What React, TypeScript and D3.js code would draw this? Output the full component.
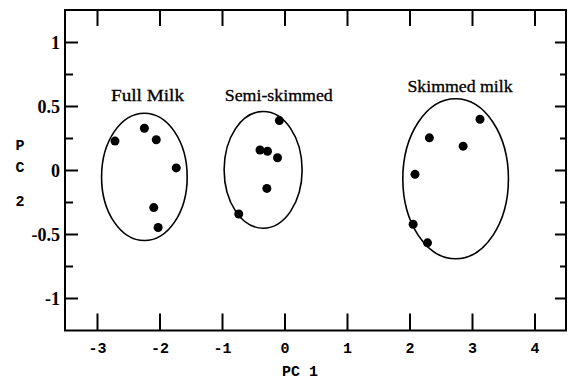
import React from "react";
import * as d3 from "d3";

const groups = ["Full Milk", "Semi-skimmed", "Skimmed milk"];
const fullMilkPC1 = [-2.72, -2.25, -2.06, -1.74, -2.1, -2.03];
const fullMilkPC2 = [0.23, 0.33, 0.24, 0.02, -0.29, -0.445];
const semiPC1 = [-0.09, -0.4, -0.28, -0.12, -0.29, -0.74];
const semiPC2 = [0.39, 0.16, 0.15, 0.1, -0.14, -0.34];
const skimPC1 = [3.12, 2.31, 2.85, 2.08, 2.05, 2.28];
const skimPC2 = [0.4, 0.255, 0.19, -0.03, -0.42, -0.565];
// ellipse: [cx, cy, rx, ry] in data units
const ellipses = [
  [-2.25, -0.05, 0.685, 0.497],
  [-0.35, 0.005, 0.624, 0.456],
  [2.73, -0.065, 0.845, 0.625],
];
// label anchor in data units
const labelX = [-2.2, -0.1, 2.8];
const labelY = [0.54, 0.54, 0.615];
const xTicks = [-3, -2, -1, 0, 1, 2, 3, 4];
const yTicks = [-1, -0.5, 0, 0.5, 1];
const yMinor = [-1.25, -0.75, -0.25, 0.25, 0.75, 1.25];

export default function App() {
  const W = 568, H = 381;
  const left = 65, right = 566, top = 10, bottom = 330.5;
  const x = d3.scaleLinear().domain([-3, 4]).range([97.5, 535]);
  const y = d3.scaleLinear().domain([-1, 1]).range([298.5, 42.5]);
  const series = [
    { xs: fullMilkPC1, ys: fullMilkPC2 },
    { xs: semiPC1, ys: semiPC2 },
    { xs: skimPC1, ys: skimPC2 },
  ];
  const labelLens = [73, 108, 105];
  return (
    <svg width={W} height={H} style={{ position: "absolute", left: 0, top: 0 }}>
      <rect width={W} height={H} fill="#fff" />
      {/* frame */}
      <rect x={left} y={top} width={right - left} height={bottom - top} fill="none" stroke="#000" strokeWidth={2} />
      {/* top / bottom ticks */}
      {xTicks.map((t) => (
        <g key={"xt" + t}>
          <line x1={x(t)} x2={x(t)} y1={top} y2={top + 16} stroke="#000" strokeWidth={2} />
          <line x1={x(t)} x2={x(t)} y1={bottom} y2={bottom - 17} stroke="#000" strokeWidth={2} />
          <text x={x(t)} y={353} textAnchor="middle" fontFamily="Liberation Mono, monospace" fontSize={15} fontWeight="bold" fill="#000">
            {String(t)}
          </text>
        </g>
      ))}
      {/* left / right ticks */}
      {yTicks.map((t) => (
        <g key={"yt" + t}>
          <line x1={left} x2={left + 13} y1={y(t)} y2={y(t)} stroke="#000" strokeWidth={2} />
          <line x1={right} x2={right - 11} y1={y(t)} y2={y(t)} stroke="#000" strokeWidth={2} />
          <text x={60} y={y(t) + 6} textAnchor="end" fontFamily="Liberation Serif, serif" fontSize={18} fontWeight="bold" fill="#000">
            {String(t)}
          </text>
        </g>
      ))}
      {yMinor.filter((t) => y(t) > top + 2 && y(t) < bottom - 2).map((t) => (
        <g key={"ym" + t}>
          <line x1={left} x2={left + 8} y1={y(t)} y2={y(t)} stroke="#000" strokeWidth={2} />
          <line x1={right} x2={right - 6} y1={y(t)} y2={y(t)} stroke="#000" strokeWidth={2} />
        </g>
      ))}
      {/* axis titles */}
      <text x={300} y={376} textAnchor="middle" fontFamily="Liberation Mono, monospace" fontSize={15} fontWeight="bold" fill="#000">PC 1</text>
      <text x={20} y={150} textAnchor="middle" fontFamily="Liberation Mono, monospace" fontSize={15} fontWeight="bold" fill="#000">P</text>
      <text x={20} y={172} textAnchor="middle" fontFamily="Liberation Mono, monospace" fontSize={15} fontWeight="bold" fill="#000">C</text>
      <text x={20} y={206} textAnchor="middle" fontFamily="Liberation Mono, monospace" fontSize={15} fontWeight="bold" fill="#000">2</text>
      {/* ellipses */}
      {ellipses.map((e, i) => (
        <ellipse key={"e" + i} cx={x(e[0])} cy={y(e[1])} rx={x(e[2]) - x(0)} ry={y(0) - y(e[3])} fill="none" stroke="#000" strokeWidth={1.6} />
      ))}
      {/* points */}
      {series.map((s, i) =>
        s.xs.map((v, j) => (
          <circle key={"p" + i + "-" + j} cx={x(v)} cy={y(s.ys[j])} r={4.5} fill="#000" />
        ))
      )}
      {/* group labels */}
      {groups.map((g, i) => (
        <text key={g} x={x(labelX[i])} y={y(labelY[i])} textAnchor="middle" fontFamily="Liberation Serif, serif" fontSize={16} fill="#000" stroke="#000" strokeWidth={0.3} textLength={labelLens[i]} lengthAdjust="spacingAndGlyphs">
          {g}
        </text>
      ))}
    </svg>
  );
}
